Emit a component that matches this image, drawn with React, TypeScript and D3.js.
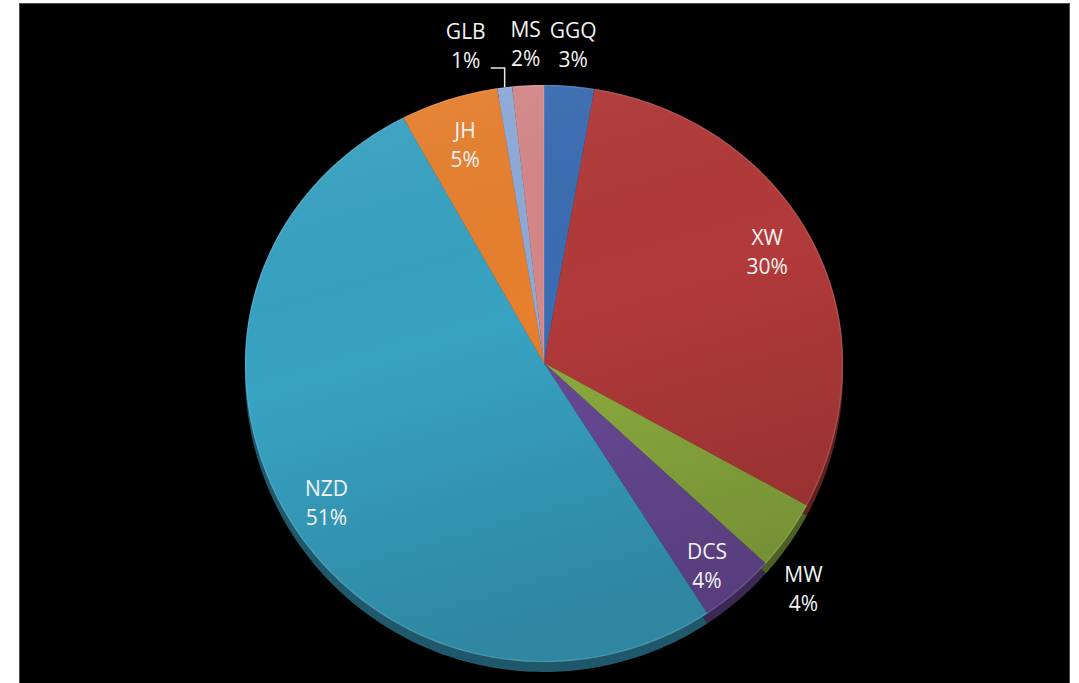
import React, { useEffect } from "react";
import * as d3 from "d3";

const categories = ["GGQ", "XW", "MW", "DCS", "NZD", "JH", "GLB", "MS"];
const values = [2.7, 30.2, 3.8, 4.1, 51.4, 5.3, 0.8, 1.7];
const percentLabels = ["3%", "30%", "4%", "4%", "51%", "5%", "1%", "2%"];
const colors = ["#3b6db3", "#b23a3a", "#8dae40", "#6a4b98", "#38a2c2", "#e7802e", "#8eaad8", "#d58888"];

// label layout: radius factor and small nudges
const labelK = [1.15, 0.83, 1.1, 0.86, 0.88, 0.83, 1.15, 1.15];
const labelDx = [0, 0, -9, -4, 9, 0, -33, 0];
const labelDy = [0, -11, 36, 7, 6, 0, 0, 0];

const W = 1079;
const H = 683;
const cx = 544;
const cy = 363;
const R = 299;
const sTop = 0.93;
const sBot = 1.0;
const depth = 10;

function proj(a: number, r: number): [number, number] {
  const c = Math.cos(a);
  return [cx + r * Math.sin(a), cy - r * c * (c > 0 ? sTop : sBot)];
}

function slicePath(a0: number, a1: number, r: number, oy = 0): string {
  const n = Math.max(2, Math.ceil(((a1 - a0) / (2 * Math.PI)) * 360));
  const pts: [number, number][] = [[cx, cy + oy]];
  for (let i = 0; i <= n; i++) {
    const a = a0 + ((a1 - a0) * i) / n;
    const p = proj(a, r);
    pts.push([p[0], p[1] + oy]);
  }
  return (d3.line()(pts) || "") + "Z";
}

export default function App() {
  useEffect(() => {
    document.body.style.margin = "0";
  }, []);
  const arcs = d3.pie<number>().sort(null).value((d) => d)(values);
  const font = "'Open Sans', 'Noto Sans', sans-serif";

  return (
    <svg width={W} height={H} style={{ display: "block", background: "#fff" }}>
      <defs>
        <linearGradient id="shade" x1="0" y1="0" x2="0.3" y2="1">
          <stop offset="0" stopColor="#fff" stopOpacity={0.08} />
          <stop offset="0.5" stopColor="#000" stopOpacity={0.0} />
          <stop offset="1" stopColor="#000" stopOpacity={0.17} />
        </linearGradient>
      </defs>
      <rect x={19.5} y={3.5} width={1050} height={700} fill="#000" stroke="#4a4a4a" strokeWidth={1} />
      {/* side (3D depth) */}
      <g>
        {arcs.map((a, i) => (
          <path
            key={"s" + i}
            d={slicePath(a.startAngle, a.endAngle, R, depth)}
            fill={d3.color(colors[i])!.darker(1.7).toString()}
          />
        ))}
      </g>
      {/* faces */}
      <g>
        {arcs.map((a, i) => (
          <path key={"f" + i} d={slicePath(a.startAngle, a.endAngle, R)} fill={colors[i]} />
        ))}
        <path d={slicePath(0, 2 * Math.PI, R)} fill="url(#shade)" />
        <path
          d={slicePath(0, 2 * Math.PI, R - 0.5)}
          fill="none"
          stroke="#fff"
          strokeOpacity={0.12}
          strokeWidth={1.5}
        />
      </g>
      {/* labels */}
      <g fontFamily={font} fontSize={21} fill="#f2f2f2" textAnchor="middle">
        {arcs.map((a, i) => {
          const mid = (a.startAngle + a.endAngle) / 2;
          const p = proj(mid, R * labelK[i]);
          const x = p[0] + labelDx[i];
          const y = p[1] + labelDy[i];
          return (
            <g key={"l" + i}>
              <text x={x} y={y - 14.5} dominantBaseline="central">
                {categories[i]}
              </text>
              <text x={x} y={y + 14.5} dominantBaseline="central">
                {percentLabels[i]}
              </text>
            </g>
          );
        })}
      </g>
      {/* leader line for GLB */}
      {(() => {
        const i = categories.indexOf("GLB");
        const a = arcs[i];
        const mid = (a.startAngle + a.endAngle) / 2;
        const edge = proj(mid, R);
        const lab = proj(mid, R * labelK[i]);
        const lx = lab[0] + labelDx[i] + 25;
        const ly = lab[1] + labelDy[i] + 22;
        return (
          <path
            d={`M${lx},${ly}H${edge[0]}V${edge[1]}`}
            fill="none"
            stroke="#e6e6e6"
            strokeWidth={1.5}
          />
        );
      })()}
    </svg>
  );
}
